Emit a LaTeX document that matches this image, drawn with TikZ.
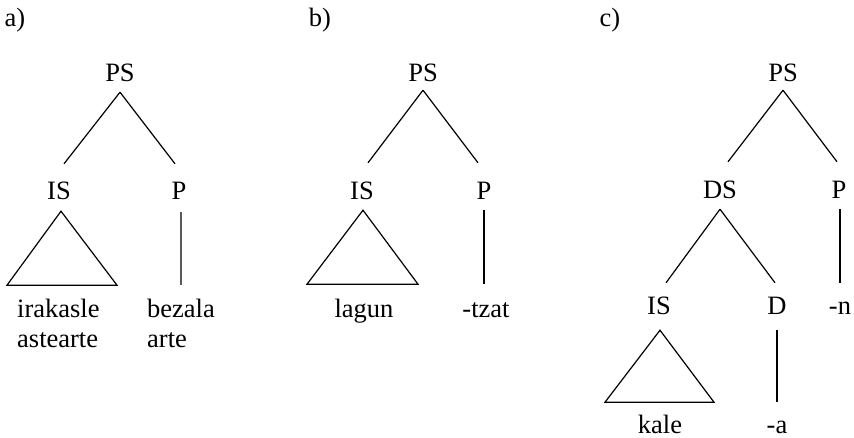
\documentclass[tikz,border=0pt]{standalone}
\usepackage{fontspec}
\setmainfont{Liberation Serif}
\usetikzlibrary{calc}
\begin{document}
\begin{tikzpicture}[x=1pt,y=-1pt,
  lab/.style={font=\fontsize{26.5}{30}\selectfont, inner sep=0pt, text height=18pt, text depth=6pt, anchor=base},
  leafw/.style={lab, anchor=base west},
  edge/.style={line width=1.2pt},
  tri/.style={line width=1.2pt, line join=miter}]
\useasboundingbox (0,0) rectangle (854,438);
% labels
\node[lab] (la) at (15,27) {a)};
\node[lab] (lb) at (320,27) {b)};
\node[lab] (lc) at (610,27) {c)};
% tree a
\node[lab] (PSa) at (120,82) {PS};
\node[lab] (ISa) at (59,200) {IS};
\node[lab] (Pa) at (179,200) {P};
\node[leafw] (ira) at (17,318) {irakasle};
\node[leafw] (ast) at (17,348) {astearte};
\node[leafw] (bez) at (147,318) {bezala};
\node[leafw] (art) at (147,348) {arte};
\draw[edge] ([yshift=-4pt]PSa.south) -- ([xshift=5pt,yshift=18pt]ISa.north);
\draw[edge] ([yshift=-4pt]PSa.south) -- ([xshift=-4pt,yshift=18pt]Pa.north);
\draw[tri] ([xshift=2pt,yshift=-5pt]ISa.south) -- ++(-54,74) -- ++(110,0) -- cycle;
\draw[edge] ([xshift=2pt,yshift=-6pt]Pa.south) -- ($(bez.north)+(0,-15)$);
% tree b
\node[lab] (PSb) at (423,82) {PS};
\node[lab] (ISb) at (362,200) {IS};
\node[lab] (Pb) at (484,200) {P};
\node[lab] (lag) at (364,318) {lagun};
\node[lab] (tza) at (486,318) {-tzat};
\draw[edge] ([yshift=-2pt]PSb.south) -- ([xshift=6pt,yshift=19pt]ISb.north);
\draw[edge] ([yshift=-2pt]PSb.south) -- ([xshift=-6pt,yshift=19pt]Pb.north);
\draw[tri] ([xshift=1pt,yshift=-4pt]ISb.south) -- ++(-56,74) -- ++(111,0) -- cycle;
\draw[edge] ([yshift=-4pt]Pb.south) -- ($(Pb.south |- tza.north)+(0,-16)$);
% tree c
\node[lab] (PSc) at (783,82) {PS};
\node[lab] (DSc) at (720,199) {DS};
\node[lab] (Pc) at (839,199) {P};
\node[lab] (ISc) at (659,315) {IS};
\node[lab] (Dc) at (777,315) {D};
\node[lab] (nc) at (840,315) {-n};
\node[lab] (kal) at (660,433) {kale};
\node[lab] (ac) at (777,433) {-a};
\draw[edge] ([yshift=-2pt]PSc.south) -- ([xshift=8pt,yshift=19pt]DSc.north);
\draw[edge] ([yshift=-2pt]PSc.south) -- ([xshift=-2pt,yshift=19pt]Pc.north);
\draw[edge] ([yshift=-4pt]DSc.south) -- ([xshift=7pt,yshift=14pt]ISc.north);
\draw[edge] ([yshift=-4pt]DSc.south) -- ([xshift=-2pt,yshift=14pt]Dc.north);
\draw[edge] ([xshift=1pt,yshift=-4pt]Pc.south) -- ($(Pc.south |- nc.north)+(1,-14)$);
\draw[tri] ([xshift=1pt,yshift=-9pt]ISc.south) -- ++(-55,72) -- ++(109,0) -- cycle;
\draw[edge] ([yshift=-9pt]Dc.south) -- ($(Dc.south |- ac.north)+(0,-13)$);
\end{tikzpicture}
\end{document}
